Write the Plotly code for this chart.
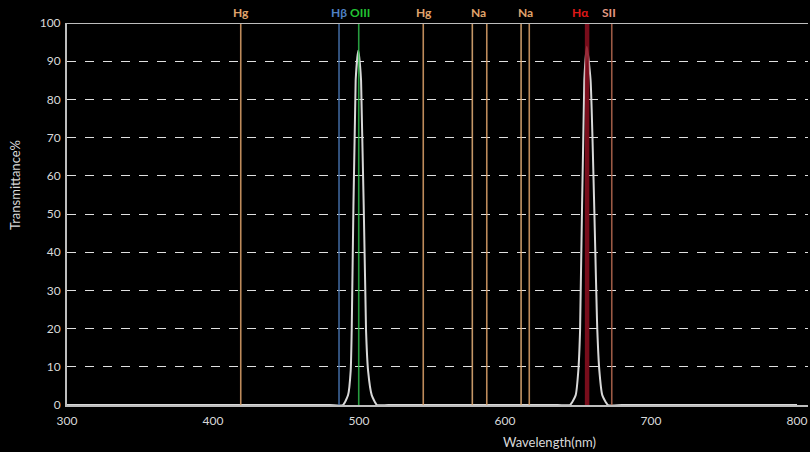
import plotly.graph_objects as go

# Filter transmission curve (nm, %)
wavelength = [300, 480, 489.0, 492.5, 494.3, 495.0, 497.7, 499.5, 501.4, 504.8, 506.2, 508.7, 512.3, 520,
              636, 644.5, 648.4, 650.2, 651.4, 654.3, 656.0, 658.6, 663.2, 664.6, 666.6, 670.5, 680, 800]
transmittance = [0, 0, 0, 2.6, 9, 19.6, 85, 92.8, 85, 19.6, 9, 2.6, 0, 0,
                 0, 0, 2.6, 9, 19.6, 85, 93.8, 85, 19.6, 9, 2.6, 0, 0, 0]

# Spectral lines
line_names = ["Hg", "Hβ", "OIII", "Hg", "Na", "Na", "Na", "Na", "Hα", "SII"]
line_nm = [419.0, 486.3, 499.8, 544.0, 577.6, 587.5, 611.0, 616.6, 656.2, 673.1]
line_colors = ["#e0a46c", "#4a78b5", "#2fb84a", "#e0a46c", "#e8b27a", "#e0a46c",
               "#e8b27a", "#e0a46c", "#8e1020", "#b86a52"]
line_widths = [1.6, 1.6, 1.6, 1.6, 1.6, 1.6, 1.6, 1.6, 4.5, 1.6]

# Labels above the plot
label_text = ["Hg", "Hβ", "OIII", "Hg", "Na", "Na", "Hα", "SII"]
label_nm = [419.0, 486.3, 500.7, 544.5, 581.5, 613.8, 652.0, 671.0]
label_colors = ["#e0a46c", "#4f80c4", "#22c433", "#e0a46c", "#e0a46c", "#e0a46c", "#e01818", "#e29a82"]

y_ticks = [0, 10, 20, 30, 40, 50, 60, 70, 80, 90, 100]
x_ticks = [300, 400, 500, 600, 700, 800]

W, H = 810, 452
L, T, R, B = 67, 23, 2, 47
plot_w = W - L - R
plot_h = H - T - B

fig = go.Figure()

fig.add_trace(go.Scatter(x=wavelength, y=transmittance, mode="lines",
                         line=dict(color="#d8d8d8", width=2, shape="spline", smoothing=0.5),
                         hoverinfo="skip", showlegend=False))

for nm, c, w in zip(line_nm, line_colors, line_widths):
    fig.add_trace(go.Scatter(x=[nm, nm], y=[0, 100], mode="lines",
                             line=dict(color=c, width=w), opacity=0.85,
                             hoverinfo="skip", showlegend=False))

for t, nm, c in zip(label_text, label_nm, label_colors):
    fig.add_annotation(x=nm, y=100, xref="x", yref="y", text="<b>" + t + "</b>",
                       showarrow=False, yanchor="middle", yshift=10.5,
                       font=dict(color=c, size=12, family="Lato"))

fig.add_shape(type="line", xref="paper", yref="y", x0=0, x1=1, y0=100, y1=100,
              line=dict(color="#bdbdbd", width=2))

# x-axis title (page x ~550, y ~442)
fig.add_annotation(text="Wavelength(nm)", xref="paper", yref="paper",
                   x=(549 - L) / plot_w, y=-(442 - (T + plot_h)) / plot_h,
                   xanchor="center", yanchor="middle", showarrow=False,
                   font=dict(color="#d9d9d9", size=13, family="Lato"))
# y-axis title (page x ~15, y ~185)
fig.add_annotation(text="Transmittance%", xref="paper", yref="paper",
                   x=-(L - 15) / plot_w, y=(T + plot_h - 185) / plot_h,
                   xanchor="center", yanchor="middle", textangle=-90, showarrow=False,
                   font=dict(color="#d9d9d9", size=13, family="Lato"))

fig.update_layout(
    width=W, height=H,
    margin=dict(l=L, r=R, t=T, b=B),
    paper_bgcolor="#000000", plot_bgcolor="#000000",
    font=dict(family="Lato", color="#d9d9d9", size=12),
    xaxis=dict(range=[300, 807.5], tickvals=x_ticks, showgrid=False, zeroline=False,
               showline=True, linecolor="#bdbdbd", linewidth=2, ticks="",
               ticklabelstandoff=4,
               tickfont=dict(color="#d9d9d9", size=12)),
    yaxis=dict(range=[0, 100], tickvals=y_ticks, showgrid=True, gridcolor="#e0e0e0",
               griddash="dash", gridwidth=1, zeroline=False,
               showline=True, linecolor="#bdbdbd", linewidth=2, ticks="",
               ticklabelstandoff=2,
               tickfont=dict(color="#d9d9d9", size=12)),
)

fig.write_html("out.html", config={"displayModeBar": False},
               post_script="document.body.style.margin='0';"
                           "document.body.style.background='#000';"
                           "document.documentElement.style.overflow='hidden';")
